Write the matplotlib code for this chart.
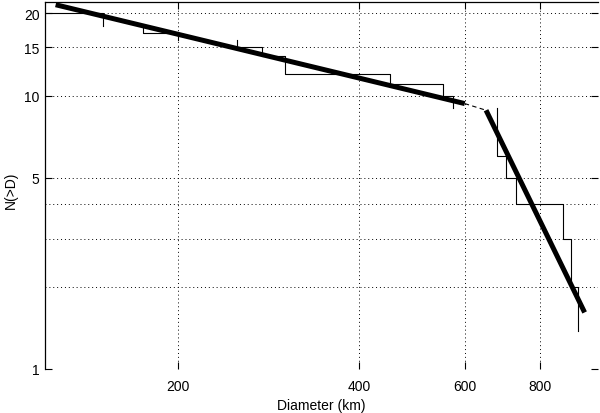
import matplotlib
matplotlib.use('Agg')
import matplotlib.pyplot as plt
import numpy as np
from matplotlib.ticker import FixedLocator, NullFormatter, FixedFormatter

plt.rcParams['font.family'] = ['Liberation Sans', 'DejaVu Sans']

# Cumulative count N(>D): diameter where each step drops, and level after it
step_D = [120, 150, 175, 200, 251, 276, 301, 450, 552, 573, 678, 702, 729, 875, 903, 926]
step_N = [20, 18, 17, 16, 15, 14, 12, 11, 10, 9, 6, 5, 4, 3, 2, 1.38]
hidden_levels = [18, 16, 9]  # horizontal segments at these levels are not visible

# Power-law fits
fit1_D = [125, 600]
fit1_N = [21.5, 9.35]
fit2_D = [651, 950]
fit2_N = [8.84, 1.61]
bridge_D = [600, 651]
bridge_N = [9.35, 8.84]

x_ticks = [200, 400, 600, 800]
y_ticks = [1, 5, 10, 15, 20]
y_extra_grid = [2, 3, 4]

fig = plt.figure(figsize=(6.0, 4.14), dpi=100)
ax = fig.add_axes([45/600, 1-370/414, (598-45)/600, (370-3)/414])

# build stairs
xs, ys = [], []
for i in range(len(step_D)):
    x0 = step_D[i]
    lvl = step_N[i]
    if i + 1 < len(step_D):
        x1 = step_D[i+1]
        if lvl in hidden_levels:
            xs += [np.nan, x1]
            ys += [np.nan, lvl]
        else:
            if i == 0:
                xs.append(x0); ys.append(lvl)
            xs.append(x1); ys.append(lvl)
        xs.append(x1); ys.append(step_N[i+1])
ax.plot(xs, ys, color='black', lw=0.8)

ax.plot(fit1_D, fit1_N, color='black', lw=3.6, solid_capstyle='butt')
ax.plot(fit2_D, fit2_N, color='black', lw=3.6, solid_capstyle='butt')
ax.plot(bridge_D, bridge_N, color='black', lw=0.8, ls=(0, (4, 3)))

ax.set_xscale('log')
ax.set_yscale('log')
ax.set_xlim(120, 1000)
ax.set_ylim(1, 22)

ax.xaxis.set_major_locator(FixedLocator(x_ticks))
ax.xaxis.set_major_formatter(FixedFormatter([str(v) for v in x_ticks]))
ax.xaxis.set_minor_locator(FixedLocator([]))
ax.xaxis.set_minor_formatter(NullFormatter())
ax.yaxis.set_major_locator(FixedLocator(y_ticks))
ax.yaxis.set_major_formatter(FixedFormatter([str(v) for v in y_ticks]))
ax.yaxis.set_minor_locator(FixedLocator(y_extra_grid))
ax.yaxis.set_minor_formatter(NullFormatter())

gl = dict(color='black', lw=0.7, ls=(0, (1, 3)))
ax.grid(True, which='major', **gl)
ax.grid(True, which='minor', axis='y', **gl)

ax.tick_params(which='major', direction='in', length=5, width=0.8,
               top=True, right=True, labelsize=10, colors='black')
ax.tick_params(axis='x', which='major', pad=7)
ax.tick_params(axis='y', which='major', pad=4)
ax.tick_params(which='minor', length=0)

for s in ['bottom', 'right']:
    ax.spines[s].set_visible(False)
for s in ['left', 'top']:
    ax.spines[s].set_linewidth(0.9)

ax.set_xlabel('Diameter (km)', fontsize=10, labelpad=4)
fig.text(11/600, 1 - 190/414, 'N(>D)', rotation=90, ha='center', va='center',
         fontsize=10)

fig.savefig('out.png', dpi=100)
